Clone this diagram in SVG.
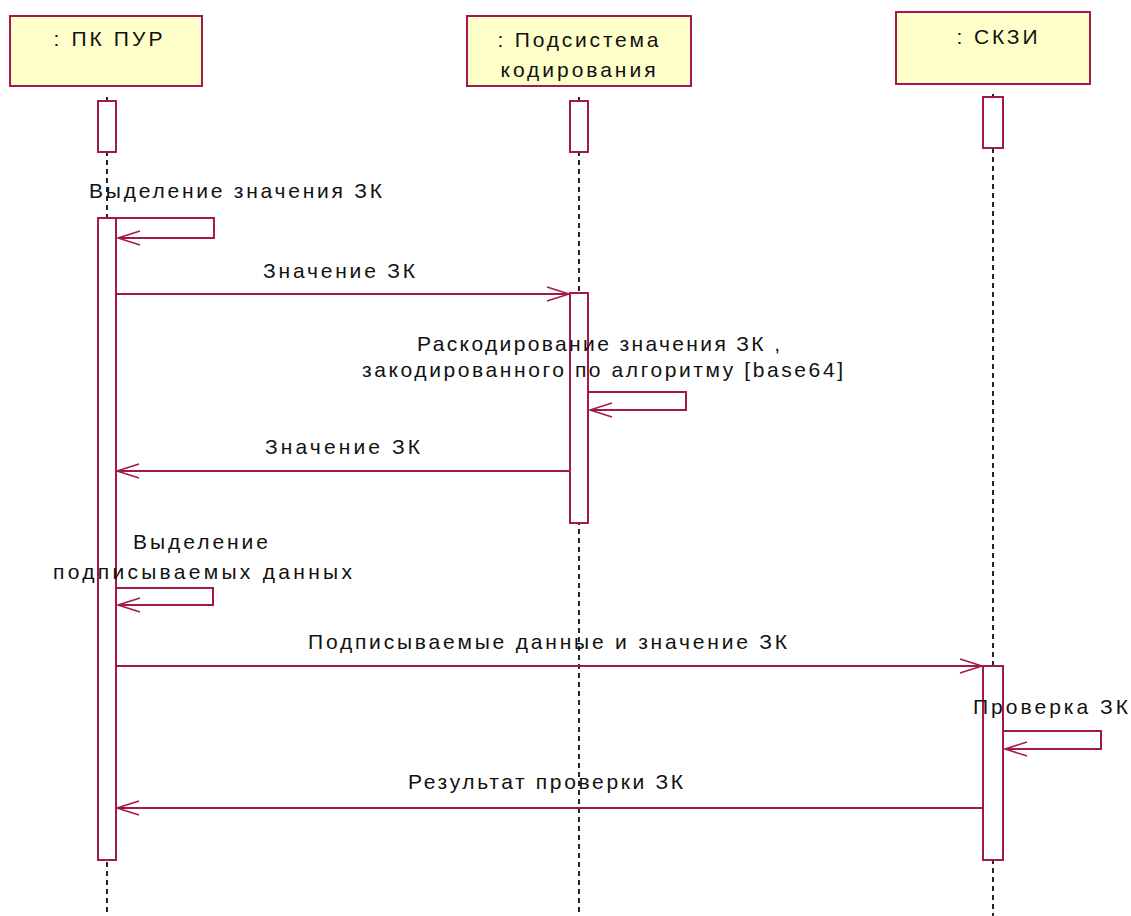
<svg xmlns="http://www.w3.org/2000/svg" width="1131" height="916" viewBox="0 0 1131 916">
<style>
.obj{fill:#ffffca;stroke:#a3194f;stroke-width:2}
.act{fill:#ffffff;stroke:#a3194f;stroke-width:2}
.life{stroke:#000;stroke-width:1.7;stroke-dasharray:5 4;fill:none}
.msg{stroke:#a3194f;stroke-width:2;fill:none}
.t{font-family:"Liberation Sans",Arial,sans-serif;font-size:21px;fill:#111}
</style>
<defs>
<marker id="open" viewBox="0 0 24 16" refX="23" refY="8" markerWidth="24" markerHeight="16" markerUnits="userSpaceOnUse" orient="auto">
<path d="M1,1 L23,8 L1,15" fill="none" stroke="#a3194f" stroke-width="1.6"/>
</marker>
</defs>
<rect width="1131" height="916" fill="#fff"/>

<g id="lifelines">
<line class="life" x1="107" y1="97" x2="107" y2="916"/>
<line class="life" x1="579" y1="97" x2="579" y2="916"/>
<line class="life" x1="993" y1="94" x2="993" y2="916"/>
</g>

<g id="node-pk-pur">
<rect class="obj" x="10" y="16" width="192" height="70"/>
<text class="t" x="108" y="46" text-anchor="middle" textLength="109" lengthAdjust="spacing">: ПК ПУР</text>
<rect class="act" x="98" y="101" width="18" height="51"/>
<rect class="act" x="98" y="218" width="18" height="642"/>
</g>

<g id="node-podsistema">
<rect class="obj" x="467" y="16" width="224" height="70"/>
<text class="t" x="578" y="47" text-anchor="middle" textLength="161" lengthAdjust="spacing">: Подсистема</text>
<text class="t" x="578" y="77" text-anchor="middle" textLength="155" lengthAdjust="spacing">кодирования</text>
<rect class="act" x="570" y="101" width="18" height="51"/>
<rect class="act" x="570" y="293" width="18" height="230"/>
</g>

<g id="node-skzi">
<rect class="obj" x="896" y="12" width="194" height="72"/>
<text class="t" x="997" y="44" text-anchor="middle" textLength="81" lengthAdjust="spacing">: СКЗИ</text>
<rect class="act" x="983" y="97" width="20" height="51"/>
<rect class="act" x="983" y="666" width="20" height="194"/>
</g>

<g id="connectors">
<polyline class="msg" points="116,218 214,218 214,238 118,238" marker-end="url(#open)"/>
<text class="t" x="89" y="198" textLength="293" lengthAdjust="spacing">Выделение значения ЗК</text>

<line class="msg" x1="116" y1="294" x2="569" y2="294" marker-end="url(#open)"/>
<text class="t" x="263" y="278" textLength="152" lengthAdjust="spacing">Значение ЗК</text>

<polyline class="msg" points="588,392 686,392 686,410 590,410" marker-end="url(#open)"/>
<text class="t" x="417" y="351" textLength="363" lengthAdjust="spacing">Раскодирование значения ЗК ,</text>
<text class="t" x="362" y="377" textLength="481" lengthAdjust="spacing">закодированного по алгоритму [base64]</text>

<line class="msg" x1="570" y1="471" x2="117" y2="471" marker-end="url(#open)"/>
<text class="t" x="265" y="454" textLength="155" lengthAdjust="spacing">Значение ЗК</text>

<polyline class="msg" points="116,588 213,588 213,605 118,605" marker-end="url(#open)"/>
<text class="t" x="133" y="549" textLength="135" lengthAdjust="spacing">Выделение</text>
<text class="t" x="53" y="579" textLength="299" lengthAdjust="spacing">подписываемых данных</text>

<line class="msg" x1="116" y1="666" x2="982" y2="666" marker-end="url(#open)"/>
<text class="t" x="308" y="649" textLength="479" lengthAdjust="spacing">Подписываемые данные и значение ЗК</text>

<polyline class="msg" points="1003,731 1101,731 1101,749 1005,749" marker-end="url(#open)"/>
<text class="t" x="973" y="714" textLength="155" lengthAdjust="spacing">Проверка ЗК</text>

<line class="msg" x1="983" y1="808" x2="117" y2="808" marker-end="url(#open)"/>
<text class="t" x="408" y="789" textLength="275" lengthAdjust="spacing">Результат проверки ЗК</text>
</g>
</svg>
